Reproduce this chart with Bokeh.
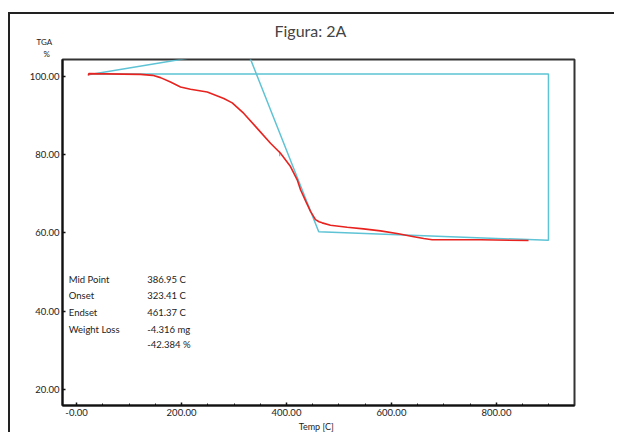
from bokeh.plotting import figure
from bokeh.models import Label, FixedTicker, Range1d, Title
from bokeh.embed import file_html
from bokeh.resources import INLINE

# TGA curve
temp_c = [22.5, 23.4, 121.9, 145.0, 160.0, 179.0, 198.1, 217.1, 249.0, 280.6, 296.6, 318.7,
          344.2, 369.5, 388.6, 407.6, 420.4, 426.7, 437.0, 445.7, 455.2, 462.0, 468.0, 483.8,
          515.6, 546.7, 579.0, 613.3, 640.0, 661.5, 677.5, 769.5, 861.0]
tga_pct = [100.2, 100.69, 100.51, 100.25, 99.67, 98.55, 97.28, 96.70, 96.01, 94.33, 93.21, 90.52,
           86.71, 82.89, 80.35, 76.94, 73.56, 71.02, 68.0, 65.51, 63.40, 62.85, 62.56, 61.95,
           61.44, 61.03, 60.52, 59.76, 59.10, 58.57, 58.24, 58.24, 58.06]

# analysis construction lines (start, onset, endset, end, end-top, start-top)
constr_x = [22.9, 323.41, 461.37, 899.0, 899.0, 22.9]
constr_y = [100.4, 107.1, 60.3, 58.1, 100.6, 100.6]
mid_x = [386.95, 386.95]
mid_y = [79.6, 80.9]

x_ticks = [0, 200, 400, 600, 800]
x_tick_labels = ["-0.00", "200.00", "400.00", "600.00", "800.00"]
x_minor = [-0, 50, 100, 150, 250, 300, 350, 450, 500, 550, 650, 700, 750, 850, 900]
y_ticks = [20, 40, 60, 80, 100]
y_tick_labels = ["20.00", "40.00", "60.00", "80.00", "100.00"]

stat_names = ["Mid Point", "Onset", "Endset", "Weight Loss", ""]
stat_values = ["386.95 C", "323.41 C", "461.37 C", "-4.316 mg", "-42.384 %"]
stat_y = [48.1, 43.9, 39.7, 35.4, 31.6]

p = figure(width=606, height=420, output_backend="svg", toolbar_location=None,
           x_range=Range1d(-26.7, 948.6), y_range=Range1d(15.9, 104.3),
           min_border_left=52, min_border_right=42, min_border_top=45, min_border_bottom=27,
           title=None)
p.styles = {"border-left": "2px solid #222222", "border-top": "2px solid #222222",
            "margin-left": "8px", "margin-top": "12px"}
p.background_fill_color = "white"
p.border_fill_color = "white"
p.outline_line_color = "#333333"
p.outline_line_width = 2
p.grid.visible = False

# titles stacked above the frame (first added = nearest the frame)
p.add_layout(Title(text="%", align="left", offset=-19, standoff=2, text_font="Lato",
                   text_font_size="8px", text_font_style="normal", text_color="#222222"), "above")
p.add_layout(Title(text="TGA", align="left", offset=-26, standoff=-2, text_font="Lato",
                   text_font_size="8px", text_font_style="normal", text_color="#222222"), "above")
p.add_layout(Title(text="Figura: 2A", align="left", offset=212, standoff=-9, text_font="Lato",
                   text_font_size="16px", text_font_style="normal", text_color="#444444"), "above")

for ax in (p.xaxis[0], p.yaxis[0]):
    ax.axis_line_color = "#111111"
    ax.axis_line_width = 2
    ax.major_tick_in = 3
    ax.major_tick_out = 0
    ax.major_tick_line_color = "#111111"
    ax.major_tick_line_width = 1.5
    ax.major_label_text_font = "Lato"
    ax.major_label_text_font_size = "9.5px"
    ax.major_label_text_color = "#222222"
    ax.major_label_standoff = 3

p.xaxis.ticker = FixedTicker(ticks=x_ticks, minor_ticks=x_minor)
p.xaxis.major_label_overrides = dict(zip(x_ticks, x_tick_labels))
p.xaxis.minor_tick_in = 2
p.xaxis.minor_tick_out = 0
p.xaxis.minor_tick_line_color = "#111111"
p.xaxis.axis_label = "Temp   [C]"
p.xaxis.axis_label_text_font = "Lato"
p.xaxis.axis_label_text_font_size = "9px"
p.xaxis.axis_label_text_font_style = "normal"
p.xaxis.axis_label_text_color = "#222222"
p.xaxis.axis_label_standoff = 2

p.yaxis.ticker = FixedTicker(ticks=y_ticks, minor_ticks=[])
p.yaxis.major_label_overrides = dict(zip(y_ticks, y_tick_labels))

p.line(constr_x, constr_y, line_color="#5ec3d5", line_width=1.5)
p.line(mid_x, mid_y, line_color="#5ec3d5", line_width=1.2)
p.line(temp_c, tga_pct, line_color="#e8231f", line_width=1.6)

for name, val, yy in zip(stat_names, stat_values, stat_y):
    if name:
        p.add_layout(Label(x=-14.7, y=yy, text=name, text_font="Lato", text_font_size="9.5px",
                           text_color="#222222", text_baseline="middle"))
    p.add_layout(Label(x=134.7, y=yy, text=val, text_font="Lato", text_font_size="9.5px",
                       text_color="#222222", text_baseline="middle"))

open("out.html", "w").write(file_html(p, INLINE))
